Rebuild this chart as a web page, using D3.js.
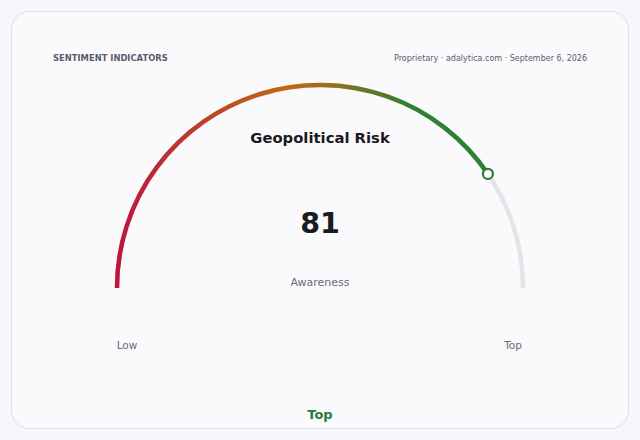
<!DOCTYPE html>
<html>
<head>
<meta charset="utf-8">
<script src="https://cdn.jsdelivr.net/npm/d3@7"></script>
<style>
  html, body { margin: 0; padding: 0; background: #f7f7fb; }
  svg { display: block; font-family: "DejaVu Sans", sans-serif; }
</style>
</head>
<body>
<svg id="chart" width="640" height="440"></svg>
<script>
// gauge data
const gaugeTitle = "Geopolitical Risk"
const gaugeValue = [81]
const gaugeDomain = [0, 100]
const endLabels = ["Low", "Top"]
const valueLabel = "Awareness"
const statusLabel = "Top"
const headerLeft = "SENTIMENT INDICATORS"
const headerRight = "Proprietary · adalytica.com · September 6, 2026"

const width = 640, height = 440
const cx = 320, cy = 288, r = 203

const svg = d3.select("#chart")

// card
svg.append("rect")
    .attr("x", 11.5).attr("y", 11.5)
    .attr("width", 617).attr("height", 417)
    .attr("rx", 18)
    .attr("fill", "#fafafd")
    .attr("stroke", "#dedee6")

svg.append("text")
    .attr("x", 53).attr("y", 61)
    .attr("font-size", 8.4).attr("font-weight", "bold")
    .attr("fill", "#5c5c70")
    .text(headerLeft)

svg.append("text")
    .attr("x", 587).attr("y", 61)
    .attr("text-anchor", "end")
    .attr("font-size", 8).attr("fill", "#5c5c6c")
    .text(headerRight)

const angle = d3.scaleLinear()
    .domain(gaugeDomain)
    .range([-Math.PI / 2, Math.PI / 2])

// horizontal gradient across the gauge (group coords)
const grad = svg.append("defs").append("linearGradient")
    .attr("id", "gaugeGrad")
    .attr("gradientUnits", "userSpaceOnUse")
    .attr("x1", -r).attr("x2", r)
    .attr("y1", 0).attr("y2", 0)
grad.selectAll("stop")
    .data([
        { o: 0, c: "#bc163f" },
        { o: 0.42, c: "#bf6a12" },
        { o: 0.52, c: "#98701a" },
        { o: 0.72, c: "#2f8033" },
        { o: 1, c: "#2f8033" }
    ])
    .join("stop")
    .attr("offset", d => d.o)
    .attr("stop-color", d => d.c)

const arcGen = d3.arc()
    .innerRadius(r)
    .outerRadius(r)

const g = svg.append("g").attr("transform", `translate(${cx},${cy})`)

// track
g.append("path")
    .attr("d", arcGen({ startAngle: angle(gaugeDomain[0]), endAngle: angle(gaugeDomain[1]) }))
    .attr("fill", "none")
    .attr("stroke", "#e3e3e8")
    .attr("stroke-width", 4.5)
    .attr("stroke-linecap", "round")

// value arc
g.selectAll(".value")
    .data(gaugeValue)
    .join("path")
    .attr("class", "value")
    .attr("d", d => arcGen({ startAngle: angle(gaugeDomain[0]), endAngle: angle(d) }))
    .attr("fill", "none")
    .attr("stroke", "url(#gaugeGrad)")
    .attr("stroke-width", 4.5)
    .attr("stroke-linecap", "round")

// marker
g.selectAll(".marker")
    .data(gaugeValue)
    .join("circle")
    .attr("class", "marker")
    .attr("cx", d => r * Math.sin(angle(d)))
    .attr("cy", d => -r * Math.cos(angle(d)))
    .attr("r", 5)
    .attr("fill", "#ffffff")
    .attr("stroke", "#2a7a35")
    .attr("stroke-width", 2.2)

svg.append("text")
    .attr("x", cx).attr("y", 143)
    .attr("text-anchor", "middle")
    .attr("font-size", 14.8).attr("font-weight", "bold")
    .attr("fill", "#1a1a22")
    .text(gaugeTitle)

svg.append("text")
    .attr("x", cx).attr("y", 233)
    .attr("text-anchor", "middle")
    .attr("font-size", 28.5).attr("font-weight", "bold")
    .attr("fill", "#1a1a22")
    .text(gaugeValue[0])

svg.append("text")
    .attr("x", cx).attr("y", 286)
    .attr("text-anchor", "middle")
    .attr("font-size", 11)
    .attr("fill", "#6a6a78")
    .text(valueLabel)

svg.selectAll(".endLabel")
    .data(endLabels)
    .join("text")
    .attr("class", "endLabel")
    .attr("x", (d, i) => i === 0 ? cx - r + 10 : cx + r - 10)
    .attr("y", 349)
    .attr("text-anchor", "middle")
    .attr("font-size", 10.5)
    .attr("fill", "#6a6a74")
    .text(d => d)

svg.append("text")
    .attr("x", cx).attr("y", 419)
    .attr("text-anchor", "middle")
    .attr("font-size", 13).attr("font-weight", "bold")
    .attr("fill", "#2a7a3a")
    .text(statusLabel)
</script>
</body>
</html>
